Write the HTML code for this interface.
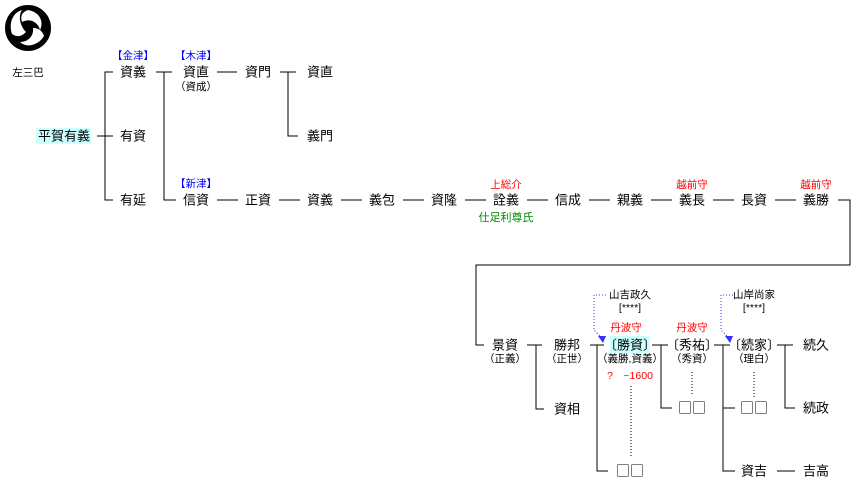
<!DOCTYPE html>
<html><head><meta charset="utf-8"><style>
body{margin:0;background:#fff;}
svg{display:block;font-family:"Liberation Sans","Noto Sans CJK JP",sans-serif;}
.n{font-size:13px;fill:#000;text-anchor:middle;dominant-baseline:central;}
.sq{font-size:14px;fill:#000;text-anchor:middle;dominant-baseline:central;font-family:"Noto Sans CJK JP",sans-serif;}
.s{font-size:10.5px;fill:#000;text-anchor:middle;dominant-baseline:central;}
.r{font-size:10.5px;fill:#f00;text-anchor:middle;dominant-baseline:central;}
.b{font-size:10.5px;fill:#00f;text-anchor:middle;dominant-baseline:central;}
.g{font-size:11px;fill:#080;text-anchor:middle;dominant-baseline:central;}
line,polyline{stroke:#000;stroke-width:1;fill:none;shape-rendering:crispEdges;}
.d{stroke:#000;stroke-dasharray:1 2;}
.bl{stroke:#33f;stroke-dasharray:1 2;}
</style></head><body>
<svg width="859" height="503" viewBox="0 0 859 503">
<circle cx="28" cy="28" r="22" fill="#000"/>
<g fill="#fff">
<path d="M28 10 C40 12 44 22 40 30 C38 22 30 18 22 22 C20 16 22 12 28 10Z"/>
<path d="M44 36 C38 46 26 48 20 42 C28 42 34 36 33 28 C38 28 42 30 44 36Z"/>
<path d="M12 34 C8 22 14 12 22 10 C18 16 20 26 26 32 C22 36 18 38 12 34Z"/>
</g>
<circle cx="28" cy="28" r="22" fill="none" stroke="#000" stroke-width="2"/>
<text class="s" x="28" y="73">左三巴</text>
<rect x="36" y="128" width="55" height="16" fill="#ccffff"/>
<rect x="610" y="336" width="40" height="17" fill="#ccffff"/>
<text class="n" x="64" y="136">平賀有義</text>
<text class="b" x="133" y="56">【金津】</text>
<text class="b" x="196" y="56">【木津】</text>
<text class="b" x="196" y="184">【新津】</text>
<text class="n" x="133" y="72">資義</text>
<text class="n" x="196" y="72">資直</text>
<text class="s" x="196" y="87">（資成）</text>
<text class="n" x="258" y="72">資門</text>
<text class="n" x="320" y="72">資直</text>
<text class="n" x="133" y="136">有資</text>
<text class="n" x="320" y="136">義門</text>
<text class="n" x="133" y="200">有延</text>
<text class="n" x="196" y="200">信資</text><text class="n" x="258" y="200">正資</text>
<text class="n" x="320" y="200">資義</text><text class="n" x="382" y="200">義包</text>
<text class="n" x="444" y="200">資隆</text><text class="n" x="506" y="200">詮義</text>
<text class="n" x="568" y="200">信成</text><text class="n" x="630" y="200">親義</text>
<text class="n" x="692" y="200">義長</text><text class="n" x="754" y="200">長資</text>
<text class="n" x="816" y="200">義勝</text>
<text class="r" x="506" y="185">上総介</text>
<text class="r" x="692" y="185">越前守</text>
<text class="r" x="816" y="185">越前守</text>
<text class="g" x="506" y="218">仕足利尊氏</text>
<line x1="97" y1="136" x2="113" y2="136"/>
<polyline points="113,72 105,72 105,200 113,200"/>
<line x1="156" y1="72" x2="172" y2="72"/>
<polyline points="172,72 164,72 164,200 176,200"/>
<line x1="217" y1="72" x2="237" y2="72"/>
<line x1="280" y1="72" x2="296" y2="72"/>
<polyline points="288,72 288,136 298,136"/>
<line x1="217" y1="200" x2="238" y2="200"/>
<line x1="279" y1="200" x2="300" y2="200"/>
<line x1="341" y1="200" x2="362" y2="200"/>
<line x1="403" y1="200" x2="424" y2="200"/>
<line x1="465" y1="200" x2="486" y2="200"/>
<line x1="527" y1="200" x2="548" y2="200"/>
<line x1="589" y1="200" x2="610" y2="200"/>
<line x1="651" y1="200" x2="672" y2="200"/>
<line x1="713" y1="200" x2="734" y2="200"/>
<line x1="775" y1="200" x2="796" y2="200"/>
<polyline points="838,200 850,200 850,265 476,265 476,345 484,345"/>
<text class="n" x="505" y="345">景資</text>
<text class="s" x="505" y="359">（正義）</text>
<text class="n" x="567" y="345">勝邦</text>
<text class="s" x="567" y="359">（正世）</text>
<text class="n" x="567" y="409">資相</text>
<line x1="527" y1="345" x2="542" y2="345"/>
<polyline points="536,345 536,409 544,409"/>
<line x1="590" y1="345" x2="604" y2="345"/>
<polyline points="597,345 597,471 608,471"/>
<text class="sq" x="630" y="471">□□</text>
<text class="n" x="630" y="345">〔勝資〕</text>
<text class="s" x="630" y="359">（義勝,資義）</text>
<text class="r" x="630" y="376">?　~1600</text>
<line class="d" x1="631" y1="386" x2="631" y2="458"/>
<line x1="652" y1="345" x2="668" y2="345"/>
<polyline points="661,345 661,408 672,408"/>
<text class="sq" x="692" y="408">□□</text>
<text class="n" x="692" y="345">〔秀祐〕</text>
<text class="s" x="692" y="359">（秀資）</text>
<line class="d" x1="692" y1="372" x2="692" y2="396"/>
<text class="r" x="626" y="328">丹波守</text>
<text class="r" x="692" y="328">丹波守</text>
<line x1="714" y1="345" x2="730" y2="345"/>
<polyline points="723,345 723,471 735,471"/>
<line x1="723" y1="408" x2="735" y2="408"/>
<text class="sq" x="754" y="408">□□</text>
<text class="n" x="754" y="471">資吉</text>
<line x1="777" y1="471" x2="795" y2="471"/>
<text class="n" x="816" y="471">吉高</text>
<text class="n" x="754" y="345">〔続家〕</text>
<text class="s" x="754" y="359">（理白）</text>
<line class="d" x1="754" y1="372" x2="754" y2="398"/>
<line x1="777" y1="345" x2="793" y2="345"/>
<polyline points="785,345 785,408 795,408"/>
<text class="n" x="816" y="345">続久</text>
<text class="n" x="816" y="408">続政</text>
<text class="s" x="630" y="295">山吉政久</text>
<text class="s" x="630" y="308">[****]</text>
<text class="s" x="754" y="295">山岸尚家</text>
<text class="s" x="754" y="308">[****]</text>
<polyline class="bl" points="606,295 594,295 594,330 602,338"/>
<polygon points="603,343 598,336 606,336" fill="#33f"/>
<polyline class="bl" points="733,295 721,295 721,330 729,338"/>
<polygon points="730,343 725,336 733,336" fill="#33f"/>
</svg>
</body></html>
